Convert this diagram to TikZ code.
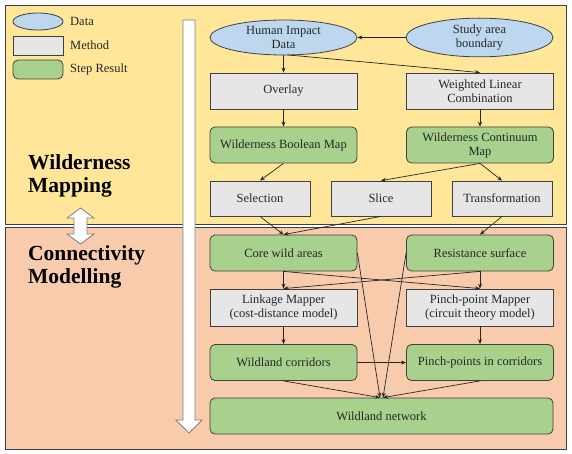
\documentclass[tikz,border=0pt]{standalone}
\usepackage{fontspec}
\setmainfont{Liberation Serif}
\usetikzlibrary{shapes.geometric,arrows.meta,calc}
\definecolor{ybg}{HTML}{FFE699}
\definecolor{sbg}{HTML}{F8CBAD}
\definecolor{dblue}{HTML}{BDD7EE}
\definecolor{mgray}{HTML}{E6E6E6}
\definecolor{rgreen}{HTML}{A9D18E}
\definecolor{bord}{HTML}{404040}
\definecolor{arrgray}{HTML}{7F7F7F}
\tikzset{
  base/.style={draw=bord, line width=0.8pt, inner sep=1pt, align=center, font=\fontsize{12.5}{14}\selectfont, text=black!85},
  datanode/.style={base, ellipse, fill=dblue},
  methodnode/.style={base, rectangle, fill=mgray},
  resultnode/.style={base, rectangle, rounded corners=5pt, fill=rgreen},
  conn/.style={draw=black!85, line width=0.7pt, -{Stealth[length=5pt,width=4pt]}},
  heading/.style={font=\fontsize{21.5}{24}\selectfont\bfseries, inner sep=0pt, anchor=base west},
  legtext/.style={font=\fontsize{12.5}{14}\selectfont, inner sep=0pt, anchor=west, text=black!85},
  bigarrow/.style={fill=white, draw=arrgray, line width=0.8pt},
}
\begin{document}
\begin{tikzpicture}[x=1pt,y=-1pt]
\useasboundingbox (0,0) rectangle (572,454);
% backgrounds
\draw[fill=ybg, draw=bord, line width=0.9pt] (5,5) rectangle (566,224);
\draw[fill=sbg, draw=bord, line width=0.9pt] (5,227) rectangle (566,449);

% legend
\node[datanode, minimum width=50pt, minimum height=17pt] (lgdata) at (38,21.5) {};
\node[methodnode, minimum width=50pt, minimum height=19pt] (lgmethod) at (38,45.5) {};
\node[resultnode, minimum width=50pt, minimum height=19pt] (lgresult) at (38,69.5) {};
\node[legtext] (tdata) at (70,21) {Data};
\node[legtext] (tmethod) at (70,45) {Method};
\node[legtext] (tresult) at (70,69) {Step Result};

% headings
\node[heading] (wm1) at (28,170) {Wilderness};
\node[heading] (wm2) at (28,193) {Mapping};
\node[heading] (cm1) at (28,260) {Connectivity};
\node[heading] (cm2) at (28,283) {Modelling};

% big arrows
\draw[bigarrow] (183,20) -- (195,20) -- (195,420) -- (202,420) -- (189,433) -- (176,420) -- (183,420) -- cycle;
\draw[bigarrow] (80.5,208) -- (94,218) -- (87,218) -- (87,234) -- (94,234) -- (80.5,244) -- (67,234) -- (74,234) -- (74,218) -- (67,218) -- cycle;

% nodes
\node[datanode, minimum width=147pt, minimum height=35pt] (hid) at (283.5,37.5) {Human Impact\\Data};
\node[datanode, minimum width=147pt, minimum height=35pt] (sab) at (479.5,37.5) {Study area\\boundary};
\node[methodnode, minimum width=147pt, minimum height=36pt] (ovl) at (283.5,91) {Overlay};
\node[methodnode, minimum width=147pt, minimum height=36pt] (wlc) at (480,91) {Weighted Linear\\Combination};
\node[resultnode, minimum width=147pt, minimum height=36pt] (wbm) at (283.5,145) {Wilderness Boolean Map};
\node[resultnode, minimum width=147pt, minimum height=36pt] (wcm) at (480,145) {Wilderness Continuum\\Map};
\node[methodnode, minimum width=100pt, minimum height=35pt] (sel) at (260,198.5) {Selection};
\node[methodnode, minimum width=100pt, minimum height=35pt] (slc) at (381,198.5) {Slice};
\node[methodnode, minimum width=100pt, minimum height=35pt] (trf) at (502,198.5) {Transformation};
\node[resultnode, minimum width=147pt, minimum height=36pt] (cwa) at (283.5,253) {Core wild areas};
\node[resultnode, minimum width=147pt, minimum height=36pt] (rsf) at (480,253) {Resistance surface};
\node[methodnode, minimum width=147pt, minimum height=37pt] (lkm) at (283.5,307.5) {Linkage Mapper\\(cost-distance model)};
\node[methodnode, minimum width=147pt, minimum height=37pt] (ppm) at (480,307.5) {Pinch-point Mapper\\(circuit theory model)};
\node[resultnode, minimum width=147pt, minimum height=36pt] (wco) at (283.5,362.5) {Wildland corridors};
\node[resultnode, minimum width=147pt, minimum height=36pt] (ppc) at (480,362.5) {Pinch-points in corridors};
\node[resultnode, minimum width=343pt, minimum height=36pt] (wnw) at (381.5,416) {Wildland network};

\coordinate (nl) at ($(wnw.north)+(-1.5,0)$);
\coordinate (nr) at ($(wnw.north)+(1.5,0)$);
\coordinate (hidw) at ($(hid.south)+(4,-0.5)$);

% connectors
\draw[conn] (sab.west) -- (hid.east);
\draw[conn] (hid.south) -- (ovl.north);
\draw[conn] (hidw) -- (wlc.north);
\draw[conn] (ovl.south) -- (wbm.north);
\draw[conn] (wlc.south) -- (wcm.north);
\draw[conn] (wbm.south) -- (sel.north);
\draw[conn] (wcm.south) -- (slc.north);
\draw[conn] (wcm.south) -- (trf.north);
\draw[conn] (sel.south) -- (cwa.north);
\draw[conn] (slc.south) -- (cwa.north);
\draw[conn] (trf.south) -- (rsf.north);
\draw[conn] (cwa.south) -- (lkm.north);
\draw[conn] (cwa.south) -- (ppm.north);
\draw[conn] (rsf.south) -- (ppm.north);
\draw[conn] (rsf.south) -- (lkm.north);
\draw[conn] (cwa.east) -- (nl);
\draw[conn] (rsf.west) -- (nr);
\draw[conn] (lkm.south) -- (wco.north);
\draw[conn] (ppm.south) -- (ppc.north);
\draw[conn] (wco.east) -- (ppc.west);
\draw[conn] (wco.south) -- (nl);
\draw[conn] (ppc.south) -- (nr);
\end{tikzpicture}
\end{document}
